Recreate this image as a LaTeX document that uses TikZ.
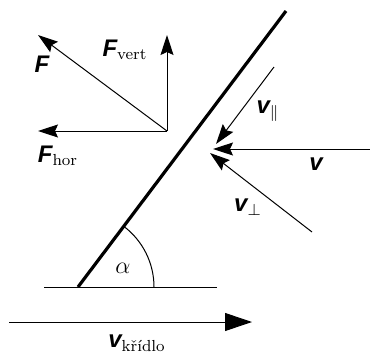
\documentclass[tikz,border=0pt]{standalone}
\usepackage{fontspec}
\usepackage{amsmath}
\newfontfamily\hv{Liberation Sans}
\usetikzlibrary{arrows.meta}
\newcommand{\bv}[1]{{\hv\bfseries\itshape #1}}
\begin{document}
\begin{tikzpicture}[x=0.5pt,y=-0.5pt,
  vec/.style={line width=0.5pt,-{Stealth[length=10pt,width=6.5pt,inset=1.5pt]}},
  wing/.style={line width=1.6pt},
  thin/.style={line width=0.5pt},
  lbl/.style={inner sep=0pt,anchor=center,font=\large}]
\useasboundingbox (0,0) rectangle (370,354);
% wing and base line
\coordinate (A) at (78,287);
\coordinate (B) at (286,11);
\coordinate (L) at (44,287);
\coordinate (R) at (217,287);
\draw[thin] (L) -- (R);
\draw[wing] (A) -- (B);
\draw[thin] ([xshift=76*0.5pt]A) arc[start angle=0,end angle=53,radius=38pt];
\node[lbl] (alpha) at (123,268) {$\alpha$};
% forces
\coordinate (O) at (167,131);
\coordinate (Fv) at (167,35);
\coordinate (Fh) at (38,131);
\coordinate (Ft) at (38,35);
\draw[vec] (O) -- (Fv);
\draw[vec] (O) -- (Fh);
\draw[vec] (O) -- (Ft);
\node[lbl] (lF) at (42,64) {\bv{F}};
\node[lbl] (lFv) at (125,50) {\bv{F}$_\text{vert}$};
\node[lbl] (lFh) at (58,156) {\bv{F}$_\text{hor}$};
% velocities
\coordinate (v1) at (370,149);
\coordinate (v2) at (213,149);
\coordinate (p1) at (274,67);
\coordinate (p2) at (216,144);
\coordinate (q1) at (312,232);
\coordinate (q2) at (210,153);
\draw[vec] (v1) -- (v2);
\draw[vec] (p1) -- (p2);
\draw[vec] (q1) -- (q2);
\node[lbl] (lv) at (316,164) {\bv{v}};
\node[lbl] (lvp) at (268,111) {\bv{v}$_\parallel$};
\node[lbl] (lvq) at (248,207) {\bv{v}$_\perp$};
% wing velocity
\coordinate (k1) at (9,322);
\coordinate (k2) at (252,322);
\draw[line width=0.5pt,-{Triangle[length=13.5pt,width=9pt]}] (k1) -- (k2);
\node[lbl] (lk) at (137,343) {\bv{v}$_\text{křídlo}$};
\end{tikzpicture}
\end{document}
